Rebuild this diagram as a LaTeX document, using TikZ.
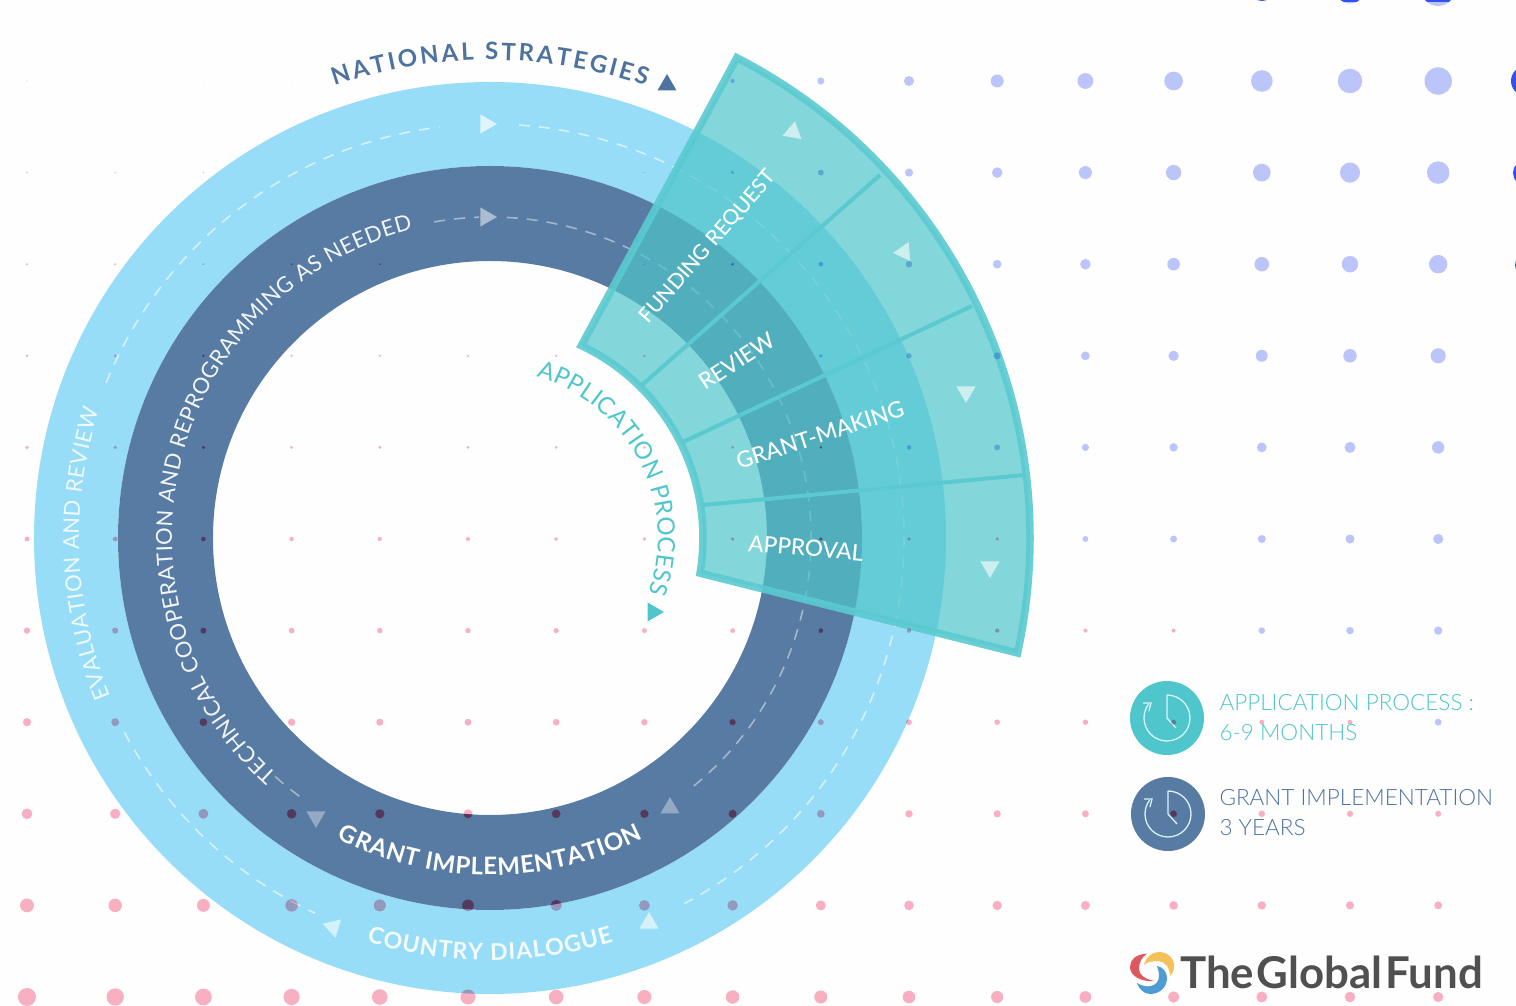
\documentclass[tikz,border=0pt]{standalone}
\usepackage{fontspec}
\usetikzlibrary{positioning, decorations.text, shapes.geometric}
\setmainfont{Lato}
\newfontfamily\thinfont{Lato Light}
\newfontfamily\midfont{Lato Medium}
\newfontfamily\logofont[WordSpace=0.25]{Lato}

\definecolor{ringlight}{HTML}{97DDF8}
\definecolor{ringdark}{HTML}{587BA3}
\definecolor{fanfill}{HTML}{4DC5C9}
\definecolor{fanline}{HTML}{5ACAD0}
\definecolor{labelteal}{HTML}{4FC6CB}
\definecolor{labelblue}{HTML}{4E73A0}
\definecolor{dotblue}{HTML}{BCC6FB}
\definecolor{dotedge}{HTML}{3350F0}
\definecolor{dotpink}{HTML}{F9B0C3}
\definecolor{logogray}{HTML}{505050}
\definecolor{logored}{HTML}{DC5A5F}
\definecolor{logoyellow}{HTML}{F4C15A}
\definecolor{logoblue}{HTML}{4F9CD4}

\newcommand{\ringsize}[1]{\fontsize{#1}{#1}\selectfont}
\newcommand{\griddots}{%
  \foreach \row in {0,...,10} \foreach \col in {0,...,16} {
    \pgfmathsetmacro{\px}{88.2*\col-463}
    \pgfmathsetmacro{\py}{457-91.6*\row}
    \pgfmathtruncatemacro{\isblue}{\col>2.2*\row+0.5}
    \ifnum\isblue=1
      \pgfmathsetmacro{\dotr}{max(13.7-1.45*(16-\col),0.3)*0.82^\row}
      \fill[dotblue] (\px,\py) circle[radius=\dotr];
    \else
      \pgfmathsetmacro{\dotr}{9*0.77^(10-\row)*0.965^\col}
      \fill[dotpink] (\px,\py) circle[radius=\dotr];
    \fi
  }}

\tikzset{
  curved/.style 2 args={decorate, decoration={text along path, text align={fit to path}, text={|#1|#2}}},
  ringdash/.style={white, line width=1.6, dash pattern=on 11 off 9},
  tick/.style={regular polygon, regular polygon sides=3, inner sep=0, minimum size=22, fill=#1},
  fanlabel/.style={text=white, font=\midfont\ringsize{22.5}},
  clockdisc/.style={circle, minimum size=74, inner sep=0},
  clockline/.style={white!85!cyan, line width=1.3},
  legend/.style={align=left, anchor=west, font=\thinfont\fontsize{22.5}{30}\selectfont},
}

\begin{document}
\begin{tikzpicture}[x=1pt, y=1pt]
  \fill[white!99.5!black] (-490,538) rectangle (1026,-468);
  \useasboundingbox (-490,538) rectangle (1026,-468);

  % the two rings
  \fill[ringlight, even odd rule] (0,0) circle[radius=456] (0,0) circle[radius=372];
  \fill[ringdark, even odd rule] (0,0) circle[radius=372] (0,0) circle[radius=277];

  \draw[ringdash, opacity=0.6] (158:414) arc[start angle=158, end angle=97, radius=414];
  \draw[ringdash, opacity=0.6] (86:414) arc[start angle=86, end angle=-62, radius=414];
  \draw[ringdash, opacity=0.6] (208:414) arc[start angle=208, end angle=245, radius=414];
  \draw[ringdash, opacity=0.45] (100:321) arc[start angle=100, end angle=92, radius=321];
  \draw[ringdash, opacity=0.45] (87:321) arc[start angle=87, end angle=-52, radius=321];
  \draw[ringdash, opacity=0.45] (228:321) arc[start angle=228, end angle=235, radius=321];

  % the application fan
  \draw[fanline, line width=7.5, fill=fanfill, fill opacity=0.69, draw opacity=0.9]
    (64.6:213) arc[start angle=64.6, end angle=-9.5, radius=213]
    -- (-12.3:540) arc[start angle=-12.3, end angle=62.8, radius=540] -- cycle;
  \draw[fanline, line width=4] (152,153) -- (390,363);
  \draw[fanline, line width=4] (193,96) -- (482,232);
  \draw[fanline, line width=4] (213,33) -- (535,63);

  % the triangles
  \node[tick=labelblue] (tnational) at (177,453) {};
  \node[tick=labelteal, shape border rotate=-90] (tapplication) at (163,-74) {};
  \node[tick=white, opacity=0.7, shape border rotate=-90] (tlighttop) at (-4,414) {};
  \node[tick=white, opacity=0.5, shape border rotate=-90] (tdarktop) at (-4,321) {};
  \node[tick=white, opacity=0.6, shape border rotate=-10] (tfundinga) at (303,406) {};
  \node[tick=white, opacity=0.6, shape border rotate=95] (tfundingb) at (414,286) {};
  \node[tick=white, opacity=0.6, shape border rotate=180] (tgrantmaking) at (476,146) {};
  \node[tick=white, opacity=0.6, shape border rotate=180] (tapproval) at (500,-29) {};
  \node[tick=white, opacity=0.35] (tdarkright) at (180,-270) {};
  \node[tick=white, opacity=0.35, shape border rotate=180] (tdarkleft) at (-174,-279) {};
  \node[tick=white, opacity=0.6] (tlightright) at (159,-385) {};
  \node[tick=white, opacity=0.6, shape border rotate=-167] (tlightleft) at (-157,-389) {};

  % legend discs with their clocks
  \foreach \cname/\cx/\cy/\cfill in {clockapp/677/-180/labelteal, clockgrant/678/-276/ringdark} {
    \node[clockdisc, fill=\cfill] (\cname) at (\cx,\cy) {};
    \draw[clockline] ([shift={(0,23)}]\cname.center) arc[start angle=90, end angle=-217, radius=23];
    \draw[clockline] ([shift={(-24,15)}]\cname.center) -- ++(8,0) -- ++(-2,-8);
    \draw[clockline] ([shift={(0,23)}]\cname.center) -- (\cname.center) -- ++(9,-10);
  }

  % dot grid, darker where it falls on the dark ring
  \begin{scope}[blend mode=multiply]
    \griddots
    \foreach \dotx/\dotr in {772/12, 860/14.5, 948/17} {
      \fill[dotblue] (\dotx,549) circle[radius=\dotr];
    }
    \begin{scope}[even odd rule]
      \clip (0,0) circle[radius=372] (0,0) circle[radius=277] (678,-276) circle[radius=37];
      \griddots
    \end{scope}
  \end{scope}
  \foreach \dotx/\doty/\dotr in {1036/457/15, 1036/365/13, 1036/273/11} {
    \fill[dotedge] (\dotx,\doty) circle[radius=\dotr];
  }
  \begin{scope}
    \clip (270,538) rectangle (1026,536.5);
    \foreach \dotx/\dotr in {772/12, 860/14.5, 948/17} {
      \fill[dotedge] (\dotx,549) circle[radius=\dotr];
    }
  \end{scope}

  % ring labels
  \path[curved={\bfseries\ringsize{24}\color{labelblue}}{NATIONAL STRATEGIES}]
    (109:478) arc[start angle=109, end angle=71, radius=478];
  \path[curved={\bfseries\ringsize{23}\color{white!90!ringlight}}{COUNTRY DIALOGUE}]
    (253:422) arc[start angle=253, end angle=287, radius=422];
  \path[curved={\bfseries\ringsize{24}\color{white}}{GRANT IMPLEMENTATION}]
    (243:337) arc[start angle=243, end angle=297, radius=337];
  \path[curved={\ringsize{22}\color{white!92!ringdark}}{TECHNICAL COOPERATION AND REPROGRAMMING AS NEEDED}]
    (228:318) arc[start angle=228, end angle=104, radius=318];
  \path[curved={\ringsize{22}\color{white!85!ringlight}}{EVALUATION AND REVIEW}]
    (202.7:411) arc[start angle=202.7, end angle=161.8, radius=411];
  \path[curved={\ringsize{24}\color{labelteal}}{APPLICATION PROCESS}]
    (74:168) arc[start angle=74, end angle=-19, radius=168];

  % fan labels
  \node[fanlabel, font=\midfont\ringsize{21}, rotate=49] (funding) at (218,291) {FUNDING REQUEST};
  \node[fanlabel, rotate=33] (review) at (247,177) {REVIEW};
  \node[fanlabel, rotate=18] (grantmaking) at (330,103) {GRANT-MAKING};
  \node[fanlabel, rotate=-5] (approval) at (316,-10) {APPROVAL};

  % legend
  \node[legend, text=labelteal] (legendapp) at (726,-180) {APPLICATION PROCESS :\\6-9 MONTHS};
  \node[legend, text=labelblue] (legendgrant) at (726,-275) {GRANT IMPLEMENTATION\\3 YEARS};

  % logo
  \begin{scope}[shift={(662,-435)}]
    \fill[logored] (-5,19.3) .. controls (-16,19) and (-22,13) .. (-22,6) .. controls (-22,-3) and (-11,-9) .. (2,-8) .. controls (-7,-6) and (-13,-2) .. (-13,4) .. controls (-13,11) and (-10,16) .. (-5,19.3);
    \fill[logoyellow] (-8,8) .. controls (-6,16) and (0,21) .. (7,21) .. controls (16,21) and (23,14) .. (22,6) .. controls (22,2) and (20,-1) .. (18,-3) .. controls (18,5) and (13,12) .. (6,12) .. controls (0,12) and (-5,11) .. (-8,8);
    \fill[logoblue] (5,7) .. controls (11,6) and (15,1) .. (15,-5) .. controls (15,-14) and (8,-21) .. (-2,-21) .. controls (-8,-21) and (-13,-16) .. (-15,-10) .. controls (-10,-13) and (-5,-14) .. (-1,-13) .. controls (4,-12) and (7,-8) .. (7,-3) .. controls (7,1) and (6,4) .. (5,7);
  \end{scope}
  \node[anchor=base west, inner sep=0, text=logogray, font=\logofont\bfseries\ringsize{43.8}] (logo) at (690,-450) {The Global Fund};
\end{tikzpicture}
\end{document}
